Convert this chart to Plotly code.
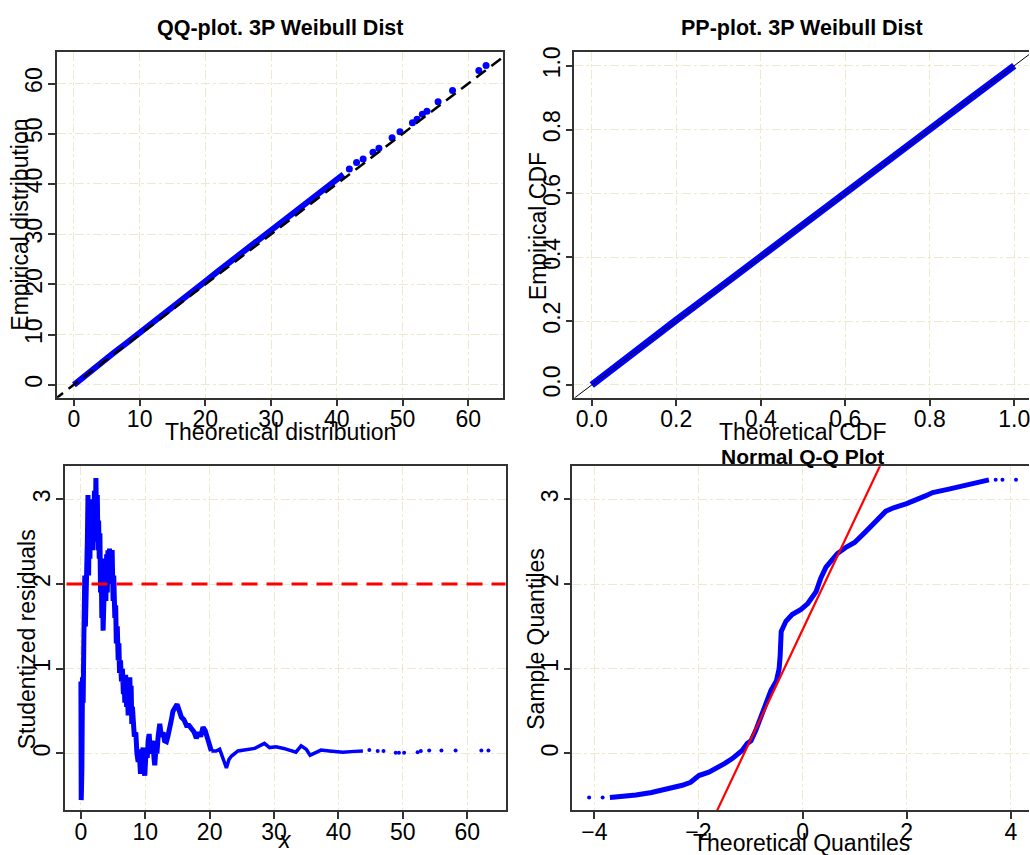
import plotly.graph_objects as go

# ---------------- data ----------------
# Panel 1: QQ-plot, dense part of the sample and sparse upper tail
qq_theo_dense = [0.0, 1.0, 2.0, 4.0, 6.0, 8.0, 10.0, 12.0, 14.0, 16.0, 18.0, 20.0,
                 22.0, 24.0, 26.0, 28.0, 30.0, 32.0, 34.0, 36.0, 38.0, 40.0, 41.0]
qq_emp_dense = [0.0, 1.1, 2.2, 4.3, 6.3, 8.3, 10.3, 12.4, 14.5, 16.5, 18.6, 20.6,
                22.7, 24.7, 26.7, 28.7, 30.6, 32.6, 34.6, 36.7, 38.8, 40.8, 41.9]
qq_theo_tail = [41.9, 43.0, 44.0, 45.5, 46.4, 48.4, 49.6, 51.5, 52.2, 53.0, 53.7,
                55.4, 57.6, 61.6, 62.7]
qq_emp_tail = [43.0, 44.3, 44.95, 46.3, 47.1, 49.2, 50.4, 52.2, 52.9, 53.9, 54.5,
               56.4, 58.6, 62.6, 63.6]

# Panel 2: PP-plot
pp_theo = [0.0, 0.05, 0.1, 0.15, 0.2, 0.3, 0.4, 0.5, 0.6, 0.7, 0.8, 0.9, 0.95, 1.0]
pp_emp = [0.0, 0.052, 0.102, 0.153, 0.203, 0.302, 0.403, 0.502, 0.601, 0.702,
          0.801, 0.901, 0.951, 1.0]

# Panel 3: studentized residuals vs x (dense region x < 20, then thinner band, then tail)
res_x_near = [0.0, 0.05, 0.1, 0.15, 0.25, 0.35, 0.45, 0.5, 0.55, 0.6, 0.7, 0.8, 0.9,
              1.0, 1.1, 1.2, 1.3, 1.4, 1.5, 1.6, 1.7, 1.8, 1.9, 2.0, 2.1, 2.2, 2.33,
              2.45, 2.55, 2.65, 2.75, 2.85, 2.95, 3.05, 3.15, 3.25, 3.35, 3.45, 3.55,
              3.65, 3.75, 3.88, 4.0, 4.1, 4.2, 4.3, 4.45, 4.55, 4.65, 4.75, 4.85,
              5.0, 5.1, 5.27, 5.4, 5.5, 5.65, 5.79, 5.9, 6.0, 6.15, 6.3, 6.45, 6.6,
              6.7, 6.82, 6.95, 7.1, 7.2, 7.34, 7.45, 7.6, 7.7, 7.8, 7.9, 8.0, 8.3,
              8.53, 8.7, 8.89, 9.05, 9.25, 9.5, 9.66, 9.8, 9.92, 10.1, 10.3, 10.45,
              10.6, 10.8, 10.97, 11.2, 11.35, 11.47, 11.65, 11.8, 12.0, 12.25, 12.5,
              12.77, 13.0, 13.28, 13.5, 13.7, 14.06, 14.3, 14.57, 14.94, 15.3, 15.6,
              16.0, 16.4, 16.8, 17.2, 17.6, 17.93, 18.3, 18.6, 18.97, 19.3, 19.5,
              19.74, 20.26]
res_y_near = [0.85, -0.55, 0.3, -0.2, 0.9, 0.6, 1.3, 1.9, 1.4, 2.1, 1.5, 2.3, 1.6,
              2.5, 3.05, 2.1, 2.9, 2.3, 3.0, 2.4, 2.95, 2.4, 2.9, 2.5, 3.1, 2.5, 3.25,
              2.6, 3.05, 2.4, 2.75, 2.3, 2.6, 1.9, 2.3, 1.6, 2.0, 1.45, 2.0,
              1.7, 2.3, 1.8, 2.35, 1.9, 2.4, 2.0, 2.42, 2.05, 2.4, 2.1, 2.4,
              1.8, 2.1, 1.6, 1.75, 1.3, 1.5, 1.1, 1.3, 0.95, 1.1, 0.85, 1.0, 0.7,
              0.9, 0.6, 0.93, 0.55, 0.8, 0.45, 0.75, 0.9, 0.5, 0.8, 0.35, 0.55, 0.2,
              0.25, 0.0, -0.1, 0.05, -0.24, 0.0, 0.07, -0.2, -0.26, 0.0, -0.05, 0.15,
              0.23, 0.0, 0.1, 0.15, -0.05, -0.14, 0.05, 0.0, 0.2, 0.35, 0.2,
              0.25, 0.15, 0.14, 0.2, 0.3, 0.4, 0.5, 0.55, 0.58, 0.5, 0.43,
              0.4, 0.33, 0.33, 0.28, 0.25, 0.18, 0.25, 0.2, 0.31, 0.27, 0.22,
              0.12, 0.03]
res_x_far = [20.26, 21.0, 21.55, 22.0, 22.6, 23.0, 23.4, 24.4, 25.7, 27.0, 28.5,
             29.3, 30.3, 31.5, 33.4, 34.2, 35.0, 35.6, 36.3, 37.3, 38.6, 40.7,
             42.5, 43.8]
res_y_far = [0.03, 0.03, 0.05, -0.05, -0.17, -0.07, -0.03, 0.03, 0.05, 0.06, 0.12,
             0.07, 0.08, 0.06, 0.015, 0.09, 0.05, -0.02, 0.004, 0.04, 0.03, 0.015,
             0.025, 0.03]
res_x_tail = [44.8, 46.1, 47.0, 48.9, 49.4, 50.2, 52.3, 52.8, 54.1, 56.0, 58.2,
              62.2, 63.3]
res_y_tail = [0.04, 0.03, 0.03, 0.01, 0.01, 0.01, 0.015, 0.03, 0.035, 0.035,
              0.035, 0.035, 0.035]

# Panel 4: normal Q-Q plot of the residuals
nq_theo = [-3.7, -3.4, -3.2, -2.9, -2.69, -2.5, -2.31, -2.15, -2.05, -1.99, -1.8,
           -1.67, -1.5, -1.35, -1.16, -1.06, -0.99, -0.9, -0.77, -0.61, -0.5,
           -0.45, -0.43, -0.42, -0.41, -0.32, -0.2, -0.03, 0.1, 0.26, 0.35, 0.45,
           0.67, 0.85, 1.0, 1.2, 1.45, 1.6, 1.75, 2.0, 2.36, 2.5, 2.81, 3.0, 3.2,
           3.45, 3.58]
nq_sample = [-0.52, -0.505, -0.49, -0.46, -0.43, -0.41, -0.375, -0.34, -0.29, -0.26,
             -0.22, -0.18, -0.12, -0.06, 0.035, 0.12, 0.15, 0.27, 0.47, 0.74, 0.86,
             1.0, 1.15, 1.3, 1.44, 1.56, 1.64, 1.70, 1.77, 1.91, 2.07, 2.20,
             2.36, 2.44, 2.49, 2.61, 2.78, 2.86, 2.9, 2.95, 3.04, 3.08, 3.12, 3.15,
             3.18, 3.22, 3.23]
nq_theo_tails = [-4.10, -3.84, 3.71, 3.84, 4.10]
nq_sample_tails = [-0.52, -0.52, 3.23, 3.23, 3.23]
qqline_intercept = 1.46
qqline_slope = 1.30
qqline_x = [-5.0, 5.0]

identity_x = [-10.0, 80.0]
pp_line_x = [-0.2, 1.2]
res_threshold = 2.0
res_line_x = [-10.0, 80.0]

# ---------------- figure ----------------
W, H = 1030, 855
FONT = "Liberation Sans, Arial, sans-serif"
BLUE = "#0000FF"

def xd(a, b):
    return [a / W, b / W]

def yd(top, bottom):
    return [1 - bottom / H, 1 - top / H]

fig = go.Figure()

# Panel 1
fig.add_trace(go.Scatter(x=qq_theo_dense, y=qq_emp_dense, mode="lines",
                         line=dict(color=BLUE, width=6), xaxis="x", yaxis="y"))
fig.add_trace(go.Scatter(x=qq_theo_tail, y=qq_emp_tail, mode="markers",
                         marker=dict(color=BLUE, size=7), xaxis="x", yaxis="y"))
fig.add_trace(go.Scatter(x=identity_x, y=identity_x, mode="lines",
                         line=dict(color="black", width=2.5, dash="12px,7px"),
                         xaxis="x", yaxis="y"))

# Panel 2
fig.add_trace(go.Scatter(x=pp_theo, y=pp_emp, mode="lines",
                         line=dict(color=BLUE, width=7), xaxis="x2", yaxis="y2"))
fig.add_trace(go.Scatter(x=pp_line_x, y=pp_line_x, mode="lines",
                         line=dict(color="black", width=1), xaxis="x2", yaxis="y2"))

# Panel 3
fig.add_trace(go.Scatter(x=res_x_near, y=res_y_near, mode="lines",
                         line=dict(color=BLUE, width=5), xaxis="x3", yaxis="y3"))
fig.add_trace(go.Scatter(x=res_x_far, y=res_y_far, mode="lines",
                         line=dict(color=BLUE, width=3.5), xaxis="x3", yaxis="y3"))
fig.add_trace(go.Scatter(x=res_x_tail, y=res_y_tail, mode="markers",
                         marker=dict(color=BLUE, size=4), xaxis="x3", yaxis="y3"))
fig.add_trace(go.Scatter(x=res_line_x, y=[res_threshold, res_threshold], mode="lines",
                         line=dict(color="#FF0000", width=3, dash="16px,9px"),
                         xaxis="x3", yaxis="y3"))

# Panel 4
fig.add_trace(go.Scatter(x=nq_theo, y=nq_sample, mode="lines",
                         line=dict(color=BLUE, width=5), xaxis="x4", yaxis="y4"))
fig.add_trace(go.Scatter(x=nq_theo_tails, y=nq_sample_tails, mode="markers",
                         marker=dict(color=BLUE, size=4), xaxis="x4", yaxis="y4"))
fig.add_trace(go.Scatter(x=qqline_x,
                         y=[qqline_intercept + qqline_slope * v for v in qqline_x],
                         mode="lines", line=dict(color="#FF0000", width=2.2),
                         xaxis="x4", yaxis="y4"))

def axis_style(domain, rng, tickvals, anchor, mirror=True, angle=0, ticktext=None,
               standoff=-7):
    d = dict(domain=domain, range=rng, tickvals=tickvals, anchor=anchor,
             showgrid=True, gridcolor="#EEE8CD", griddash="dashdot", gridwidth=1,
             showline=True, linecolor="#333333", linewidth=1.5, mirror=mirror,
             ticks="outside", ticklen=7, tickwidth=1.5, tickcolor="#333333",
             tickfont=dict(family=FONT, size=23, color="black"),
             ticklabeloverflow="allow", ticklabelstandoff=standoff,
             zeroline=False, tickangle=angle, fixedrange=True)
    if ticktext is not None:
        d["ticktext"] = ticktext
    return d

top1, bot1 = 47, 395
top2, bot2 = 464, 810
cdf_ticks = [0, 0.2, 0.4, 0.6, 0.8, 1.0]
cdf_text = ["0.0", "0.2", "0.4", "0.6", "0.8", "1.0"]

fig.update_layout(
    width=W, height=H,
    margin=dict(l=0, r=0, t=0, b=0),
    paper_bgcolor="white", plot_bgcolor="white",
    showlegend=False,
    font=dict(family=FONT, color="black"),
    xaxis=axis_style(xd(57, 503), [-2.58, 65.2], [0, 10, 20, 30, 40, 50, 60], "y"),
    yaxis=axis_style(yd(top1, bot1), [-2.57, 66.34], [0, 10, 20, 30, 40, 50, 60], "x",
                     angle=-90, standoff=-3),
    xaxis2=axis_style(xd(575, 1030), [-0.041, 1.035], cdf_ticks, "y2", ticktext=cdf_text),
    yaxis2=axis_style(yd(top1, bot1), [-0.04, 1.044], cdf_ticks, "x2",
                      mirror=False, angle=-90, ticktext=cdf_text, standoff=-3),
    xaxis3=axis_style(xd(65, 506), [-2.48, 65.95], [0, 10, 20, 30, 40, 50, 60], "y3"),
    yaxis3=axis_style(yd(top2, bot2), [-0.67, 3.39], [0, 1, 2, 3], "x3", angle=-90,
                      standoff=-3),
    xaxis4=axis_style(xd(573, 1030), [-4.42, 4.35], [-4, -2, 0, 2, 4], "y4"),
    yaxis4=axis_style(yd(top2, bot2), [-0.67, 3.39], [0, 1, 2, 3], "x4",
                      mirror=False, angle=-90, standoff=-3),
)

def ann(text, x, y, size=23, angle=0, yanchor="middle"):
    fig.add_annotation(text=text, x=x / W, y=1 - y / H, xref="paper", yref="paper",
                       showarrow=False, textangle=angle, xanchor="center",
                       yanchor=yanchor, font=dict(family=FONT, size=size, color="black"))

# Titles
ann("<b>QQ-plot. 3P Weibull Dist</b>", 280, 23, size=21.5)
ann("<b>PP-plot. 3P Weibull Dist</b>", 803, 23, size=21.5)
ann("<b>Normal Q-Q Plot</b>", 803, 454, size=21)

# Axis titles
ann("Theoretical distribution", 281, 430)
ann("Empirical distribution", 20, 221, angle=-90)
ann("Theoretical CDF", 803.5, 430)
ann("Empirical CDF", 538, 222, angle=-90)
ann("Studentized residuals", 27, 638, angle=-90)
ann("<i>x</i>", 285, 855, yanchor="bottom")
ann("Sample Quantiles", 537, 637, angle=-90)
ann("Theoretical Quantiles", 802.5, 843)

fig.write_html("out.html")
